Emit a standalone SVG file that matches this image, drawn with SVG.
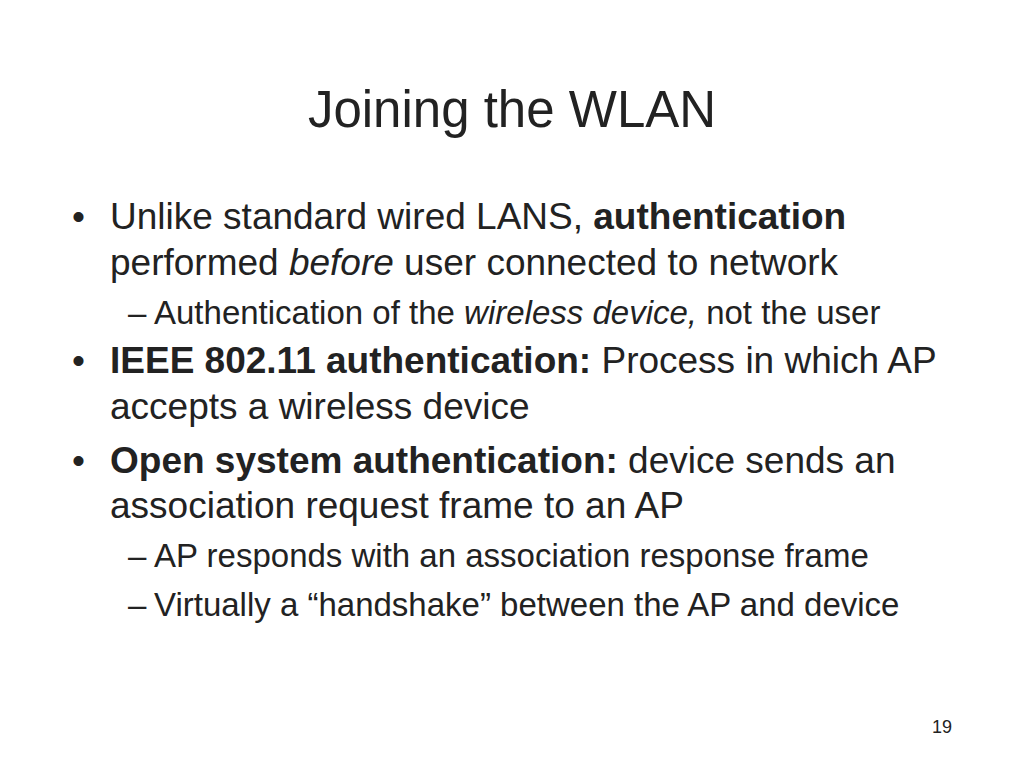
<svg xmlns="http://www.w3.org/2000/svg" width="1024" height="768" viewBox="0 0 1024 768">
<style>
text{font-family:"Liberation Sans",Arial,sans-serif;fill:#222}
.t{font-size:51px}
.b{font-size:37px}
.s{font-size:33px}
.n{font-size:18px}
.bo{font-weight:bold}
.i{font-style:italic}
</style>
<rect width="1024" height="768" fill="#fff"/>
<text class="t" x="512" y="127" text-anchor="middle">Joining the WLAN</text>
<text class="b" x="72" y="229">•</text>
<text class="b" x="110" y="229">Unlike standard wired LANS, <tspan class="bo">authentication</tspan></text>
<text class="b" x="110" y="275">performed <tspan class="i">before</tspan> user connected to network</text>
<text class="s" x="128" y="324">–</text>
<text class="s" x="154" y="324">Authentication of the <tspan class="i">wireless device,</tspan> not the user</text>
<text class="b" x="72" y="373">•</text>
<text class="b" x="110" y="373"><tspan class="bo">IEEE 802.11 authentication:</tspan> Process in which AP</text>
<text class="b" x="110" y="419">accepts a wireless device</text>
<text class="b" x="72" y="473">•</text>
<text class="b" x="110" y="473"><tspan class="bo">Open system authentication:</tspan> device sends an</text>
<text class="b" x="110" y="518">association request frame to an AP</text>
<text class="s" x="128" y="567">–</text>
<text class="s" x="154" y="567">AP responds with an association response frame</text>
<text class="s" x="128" y="616">–</text>
<text class="s" x="154" y="616">Virtually a “handshake” between the AP and device</text>
<text class="n" x="942" y="733" text-anchor="middle">19</text>
</svg>
